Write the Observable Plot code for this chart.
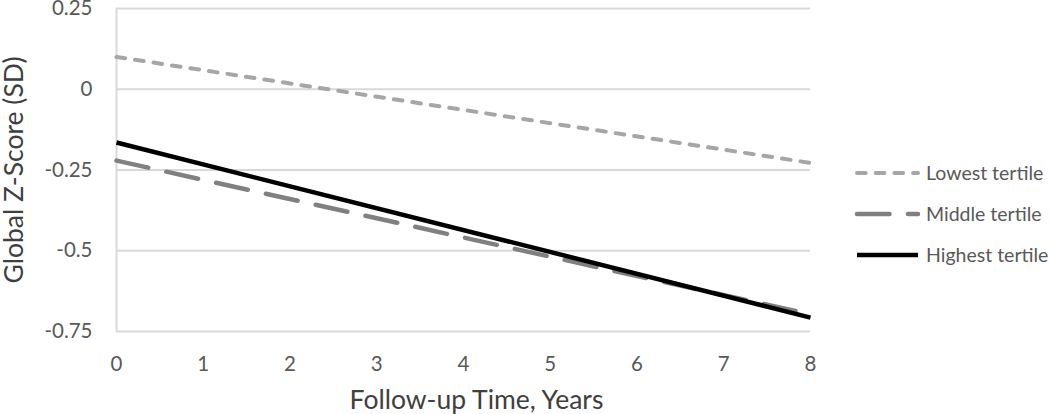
<!DOCTYPE html>
<html><head><meta charset="utf-8">
<script src="https://cdn.jsdelivr.net/npm/d3@7"></script>
<script src="https://cdn.jsdelivr.net/npm/@observablehq/plot@0.6"></script>
<style>
body{margin:0;background:#fff;}
#wrap{position:relative;width:1050px;height:414px;}
#legend{position:absolute;left:0;top:0;}
</style></head><body><div id="wrap"></div>
<script>
// ---- data ----
const years = [0, 8];
const seriesNames = ["Lowest tertile", "Middle tertile", "Highest tertile"];
const lowest = [0.10, -0.228];
const middle = [-0.221, -0.697];
const highest = [-0.165, -0.707];
const yTicks = [0.25, 0, -0.25, -0.5, -0.75];
const xTicks = [0, 1, 2, 3, 4, 5, 6, 7, 8];
const yLabel = "Global Z-Score (SD)";
const xLabel = "Follow-up Time, Years";

const values = {"Lowest tertile": lowest, "Middle tertile": middle, "Highest tertile": highest};
const styles = {
  "Lowest tertile": {stroke: "#a6a6a6", strokeWidth: 4, strokeDasharray: "8.7,10", strokeLinecap: "round"},
  "Middle tertile": {stroke: "#808080", strokeWidth: 4.5, strokeDasharray: "32.5,18.5", strokeLinecap: "round"},
  "Highest tertile": {stroke: "#000000", strokeWidth: 4.5, strokeLinecap: "butt"}
};
const data = seriesNames.flatMap(s => years.map((yr, i) => ({series: s, year: yr, z: values[s][i]})));

const font = "Lato, 'Open Sans', sans-serif";
const textColor = "#595959";
const labelColor = "#404040";

const chart = Plot.plot({
  width: 1050, height: 414,
  marginLeft: 116, marginRight: 240, marginTop: 8, marginBottom: 83,
  x: {domain: [0, 8]},
  y: {domain: [-0.75, 0.25]},
  style: {fontFamily: font, fontSize: "20.5px", color: textColor, background: "#fff", overflow: "visible"},
  marks: [
    Plot.gridY(yTicks, {stroke: "#d9d9d9", strokeOpacity: 1, strokeWidth: 2}),
    Plot.ruleX([0], {stroke: "#d9d9d9", strokeWidth: 2}),
    Plot.axisY({ticks: yTicks, tickSize: 0, tickPadding: 24, tickFormat: d => String(d), label: null}),
    Plot.axisX({ticks: xTicks, tickSize: 0, tickPadding: 25, tickFormat: d => String(d), label: null}),
    Plot.text([yLabel], {frameAnchor: "left", textAnchor: "middle", rotate: -90, dx: -102, fontSize: 26.5, fill: labelColor, lineAnchor: "middle"}),
    Plot.text([xLabel], {frameAnchor: "bottom", dx: 13, dy: 69, fontSize: 26.5, fill: labelColor, lineAnchor: "middle"}),
    ...seriesNames.map(s => Plot.lineY(data.filter(d => d.series === s), {x: "year", y: "z", ...styles[s]}))
  ]
});
document.getElementById("wrap").appendChild(chart);

// legend on the right
const leg = d3.select("#wrap").append("svg").attr("id", "legend")
  .attr("width", 1050).attr("height", 414).style("pointer-events", "none");
seriesNames.forEach((s, i) => {
  const y = 173 + i * 41;
  const st = styles[s];
  leg.append("line").attr("x1", 857).attr("x2", 918).attr("y1", y).attr("y2", y)
    .attr("stroke", st.stroke).attr("stroke-width", st.strokeWidth)
    .attr("stroke-dasharray", st.strokeDasharray || null).attr("stroke-linecap", st.strokeLinecap);
  leg.append("text").attr("x", 926).attr("y", y).attr("dy", "0.35em")
    .attr("font-family", font).attr("font-size", 19.5).attr("fill", textColor).text(s);
});
</script></body></html>
